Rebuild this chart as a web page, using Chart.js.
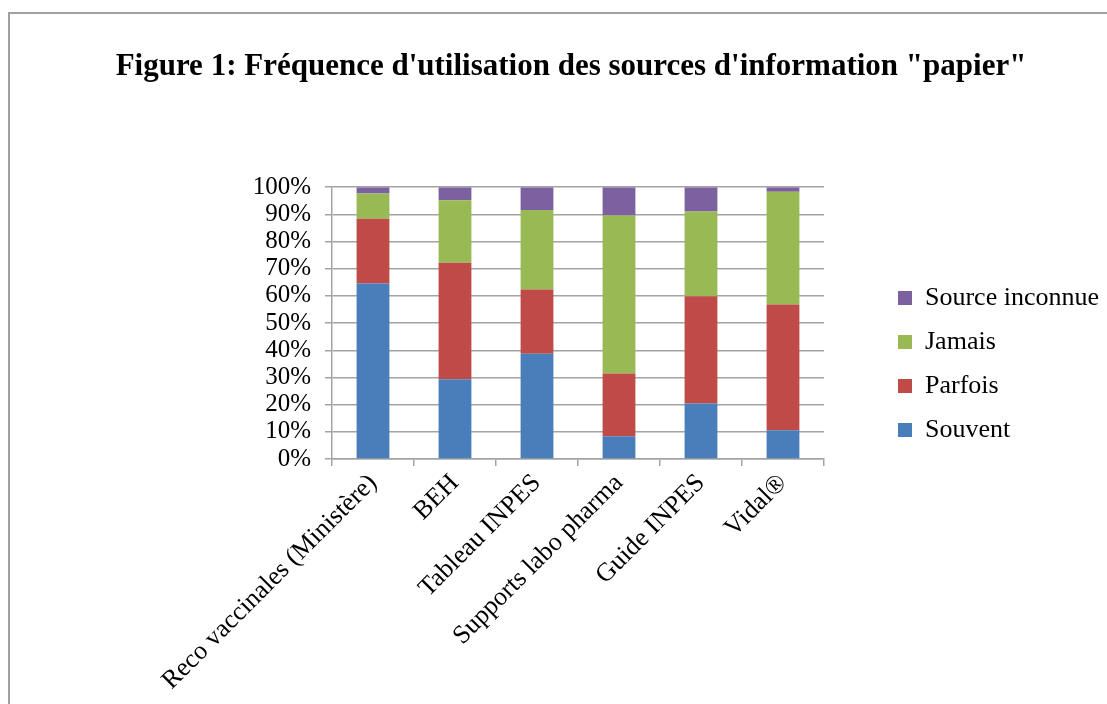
<!DOCTYPE html>
<html>
<head>
<meta charset="utf-8">
<script src="https://cdn.jsdelivr.net/npm/chart.js@4"></script>
<style>
  html, body { margin: 0; padding: 0; background: #fff; overflow: hidden; }
  #frame {
    position: absolute; left: 8px; top: 12px;
    width: 1130px; height: 720px;
    border: 2px solid #a0a0a0;
  }
</style>
</head>
<body>
<div id="frame"><canvas id="myChart" width="1122" height="700"></canvas></div>
<script>
// sources "papier"
const categories = ['Reco vaccinales (Ministère)', 'BEH', 'Tableau INPES', 'Supports labo pharma', 'Guide INPES', 'Vidal®'];
// % de réponses
const souvent  = [64.6, 29.3, 38.7, 8.4, 20.4, 10.6];
const parfois  = [23.8, 42.9, 23.7, 23.1, 39.5, 46.2];
const jamais   = [9.3, 23.0, 29.2, 58.1, 31.2, 41.5];
const inconnue = [2.3, 4.8, 8.4, 10.4, 8.9, 1.7];
const yTicks = [0, 10, 20, 30, 40, 50, 60, 70, 80, 90, 100];

const serif = "'Liberation Serif', 'Times New Roman', serif";
const gridColor = '#a3a3a3';

// décale la légende vers la droite (espace entre le graphique et la légende)
const legendShift = {
  id: 'legendShift',
  afterLayout(chart) {
    chart.legend.left += 56;
    chart.legend.right += 56;
  }
};

let ctx = document.getElementById('myChart').getContext('2d');

let chart = new Chart(ctx, {
  type: 'bar',
  data: {
    labels: categories,
    datasets: [
      { label: 'Souvent', data: souvent, backgroundColor: '#4a7ebb' },
      { label: 'Parfois', data: parfois, backgroundColor: '#be4b48' },
      { label: 'Jamais', data: jamais, backgroundColor: '#98b954' },
      { label: 'Source inconnue', data: inconnue, backgroundColor: '#7d60a0' }
    ]
  },
  plugins: [legendShift],
  options: {
    responsive: false,
    animation: false,
    datasets: {
      bar: { categoryPercentage: 0.8, barPercentage: 0.5 }
    },
    layout: {
      padding: 0
    },
    scales: {
      x: {
        stacked: true,
        grid: { display: true, drawOnChartArea: false, offset: true, color: gridColor, lineWidth: 1.5, tickLength: 7 },
        border: { display: true, color: gridColor, width: 1.5 },
        ticks: {
          color: '#000',
          font: { family: serif, size: 26 },
          maxRotation: 45,
          minRotation: 45,
          autoSkip: false,
          padding: 2
        },
        afterFit: function (scale) {
          scale.height = 255;
          scale.paddingRight = 308; // le graphique s'arrête à x = 814
        }
      },
      y: {
        stacked: true,
        min: 0,
        max: 100,
        grid: { color: gridColor, lineWidth: 1.5, tickLength: 7 },
        border: { display: true, color: gridColor, width: 1.5 },
        afterBuildTicks: function (scale) {
          scale.ticks = yTicks.map(v => ({ value: v }));
        },
        ticks: {
          color: '#000',
          font: { family: serif, size: 25 },
          autoSkip: false,
          padding: 14,
          callback: v => v + '%'
        },
        afterFit: function (scale) { scale.width = 322; }
      }
    },
    plugins: {
      title: {
        display: true,
        text: 'Figure 1: Fréquence d\'utilisation des sources d\'information "papier"',
        color: '#000',
        font: { family: serif, size: 31, weight: 'bold' },
        padding: { top: 34, bottom: 102 }
      },
      legend: {
        position: 'right',
        reverse: true,
        labels: {
          color: '#000',
          font: { family: serif, size: 26 },
          boxWidth: 14,
          boxHeight: 14,
          padding: 18
        }
      },
      tooltip: { enabled: false }
    }
  }
});
</script>
</body>
</html>
